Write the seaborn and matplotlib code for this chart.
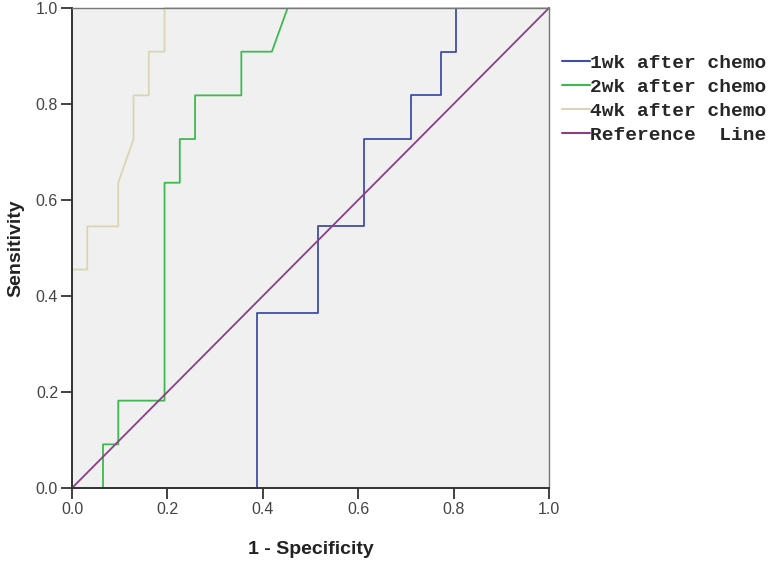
import pandas as pd
import numpy as np
import seaborn as sns
import matplotlib.pyplot as plt


# ROC points (1 - specificity, sensitivity)
fpr_1wk = [0, 0.387, 0.387, 0.516, 0.516, 0.613, 0.613, 0.710, 0.710, 0.774, 0.774, 0.806, 0.806, 1.0]
tpr_1wk = [0, 0, 0.364, 0.364, 0.545, 0.545, 0.727, 0.727, 0.818, 0.818, 0.909, 0.909, 1.0, 1.0]

fpr_2wk = [0, 0.065, 0.065, 0.097, 0.097, 0.194, 0.194, 0.226, 0.226, 0.258, 0.258, 0.355, 0.355, 0.419, 0.452, 1.0]
tpr_2wk = [0, 0, 0.091, 0.091, 0.182, 0.182, 0.636, 0.636, 0.727, 0.727, 0.818, 0.818, 0.909, 0.909, 1.0, 1.0]

fpr_4wk = [0, 0, 0.032, 0.032, 0.097, 0.097, 0.129, 0.129, 0.161, 0.161, 0.194, 0.194, 1.0]
tpr_4wk = [0, 0.455, 0.455, 0.545, 0.545, 0.636, 0.727, 0.818, 0.818, 0.909, 0.909, 1.0, 1.0]

ref_x = [0, 1]
ref_y = [0, 1]

series = ["1wk after chemo", "2wk after chemo", "4wk after chemo", "Reference  Line"]
colors = ["#3f4fa6", "#3cba4e", "#dad5b2", "#8a3f86"]
ticks = [0.0, 0.2, 0.4, 0.6, 0.8, 1.0]

# long table for seaborn
parts = []
for name, xs, ys in zip(series, [fpr_1wk, fpr_2wk, fpr_4wk, ref_x], [tpr_1wk, tpr_2wk, tpr_4wk, ref_y]):
    d = pd.DataFrame({"fpr": xs, "tpr": ys})
    d["series"] = name
    parts.append(d)
df = pd.concat(parts, ignore_index=True)

sns.set_style("ticks")
plt.rcParams["font.family"] = ["Liberation Sans", "DejaVu Sans"]

fig = plt.figure(figsize=(7.68, 5.64), dpi=100)
ax = fig.add_axes([72 / 768, 1 - 488 / 564, 477 / 768, 480 / 564])
ax.set_facecolor("#f0f0f0")

# each curve in its own call so the points stay in step order
handles = []
for name, c in zip(series, colors):
    sub = df[df["series"] == name]
    sns.lineplot(x=sub["fpr"].values, y=sub["tpr"].values, sort=False, estimator=None,
                 color=c, linewidth=1.3, ax=ax, clip_on=False)
    handles.append(plt.Line2D([], [], color=c, linewidth=1.5))

ax.set_xlim(0, 1)
ax.set_ylim(0, 1)
ax.set_xticks(ticks)
ax.set_yticks(ticks)
ax.set_xticklabels([f"{t:.1f}" for t in ticks])
ax.set_yticklabels([f"{t:.1f}" for t in ticks])
ax.tick_params(direction="out", length=8, width=1.3, color="#333333", labelsize=11.5,
               labelcolor="#444444", pad=2)

for s in ["left", "bottom"]:
    ax.spines[s].set_color("#333333")
    ax.spines[s].set_linewidth(1.4)
for s in ["top", "right"]:
    ax.spines[s].set_color("#777777")
    ax.spines[s].set_linewidth(1.0)

ax.set_xlabel("1 - Specificity", fontsize=14, fontweight="bold", color="#222222", labelpad=17)
ax.set_ylabel("Sensitivity", fontsize=14, fontweight="bold", color="#222222", labelpad=8)

ax.legend(handles, series, loc="upper left", bbox_to_anchor=(1.027, 0.903), frameon=False,
          borderaxespad=0, borderpad=0, handlelength=1.45, handletextpad=0.0,
          labelspacing=0.32, prop={"family": "Liberation Mono", "weight": "bold", "size": 14})

fig.savefig("out.png", dpi=100)
